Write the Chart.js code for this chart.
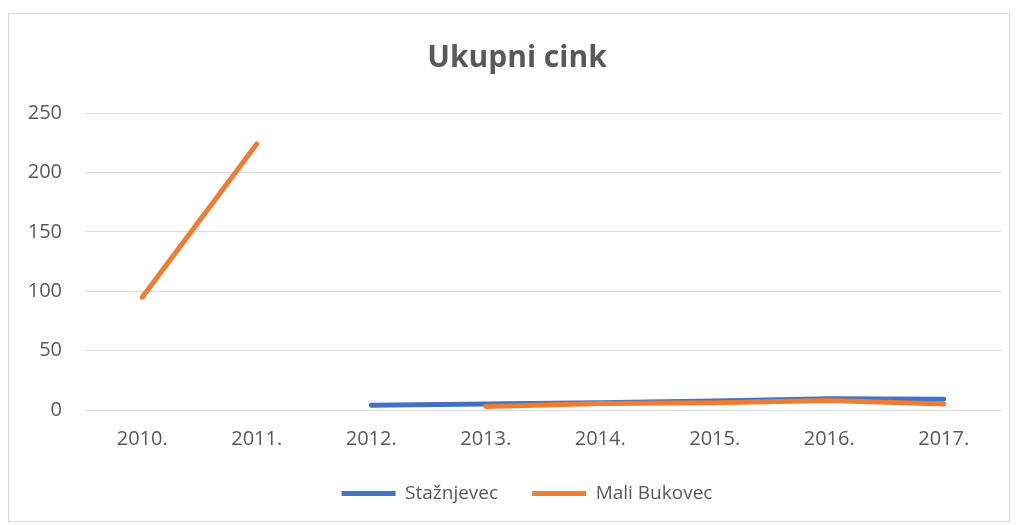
<!DOCTYPE html>
<html>
<head>
<meta charset="utf-8">
<script src="https://cdn.jsdelivr.net/npm/chart.js@4"></script>
<style>
  html, body { margin: 0; padding: 0; background: #fff; }
  .frame {
    position: absolute; left: 8px; top: 13px;
    width: 1000px; height: 507px;
    border: 1px solid #d9d9d9;
  }
</style>
</head>
<body>
<div class="frame"><canvas id="chart" width="1000" height="507"></canvas></div>
<script>
// values
const years = ['2010.', '2011.', '2012.', '2013.', '2014.', '2015.', '2016.', '2017.'];
const staznjevec = [null, null, 4, 5, 6, 7.5, 9.5, 9];
const maliBukovec = [95, 224, null, 3, 5.5, 6, 8, 5];
const yTicks = [0, 50, 100, 150, 200, 250];

const BLUE = '#4472C4';
const ORANGE = '#ED7D31';
const TEXT = '#595959';
const FONT = "'Open Sans', sans-serif";

// nudge legend and title to where the original sits
const boxShift = {
    id: 'boxShift',
    afterLayout(chart) {
        const l = chart.legend;
        l.left += 22; l.right += 22;
        l.top -= 18; l.bottom -= 18;
        const t = chart.titleBlock;
        t.left += 12; t.right += 12;
    }
};

const ctx = document.getElementById('chart').getContext('2d');

new Chart(ctx, {
    type: 'line',
    data: {
        labels: years,
        datasets: [
            {
                label: 'Stažnjevec',
                data: staznjevec,
                borderColor: BLUE,
                backgroundColor: BLUE,
                borderWidth: 5,
                order: 1
            },
            {
                label: 'Mali Bukovec',
                data: maliBukovec,
                borderColor: ORANGE,
                backgroundColor: ORANGE,
                borderWidth: 5,
                order: 0
            }
        ]
    },
    plugins: [boxShift],
    options: {
        responsive: false,
        animation: false,
        spanGaps: false,
        elements: {
            point: { radius: 0, hoverRadius: 0 },
            line: { tension: 0, borderCapStyle: 'round', borderJoinStyle: 'round' }
        },
        layout: { padding: { left: 0, right: 8, top: 0, bottom: -10 } },
        plugins: {
            tooltip: { enabled: false },
            title: {
                display: true,
                text: 'Ukupni cink',
                color: TEXT,
                font: { family: FONT, size: 30, weight: 'bold' },
                padding: { top: 26, bottom: 37 }
            },
            legend: {
                position: 'bottom',
                labels: {
                    color: TEXT,
                    font: { family: FONT, size: 19 },
                    boxWidth: 54,
                    boxHeight: 5,
                    padding: 34,
                    useBorderRadius: true,
                    borderRadius: 2.5,
                    generateLabels: chart => chart.data.datasets.map((ds, i) => ({
                        text: ds.label,
                        fillStyle: ds.borderColor,
                        strokeStyle: ds.borderColor,
                        lineWidth: 0,
                        fontColor: TEXT,
                        hidden: false,
                        datasetIndex: i
                    }))
                }
            }
        },
        scales: {
            x: {
                offset: true,
                grid: { display: false, drawTicks: false, offset: true },
                border: { display: false },
                ticks: {
                    color: TEXT,
                    font: { family: FONT, size: 20 },
                    padding: 17,
                    maxRotation: 0
                }
            },
            y: {
                min: 0,
                max: 250,
                afterBuildTicks: scale => {
                    scale.ticks = yTicks.map(v => ({ value: v }));
                },
                afterFit: scale => { scale.width = 76; },
                grid: { color: '#d9d9d9', lineWidth: 1, drawTicks: false },
                border: { display: false },
                ticks: {
                    color: TEXT,
                    font: { family: FONT, size: 20 },
                    padding: 23
                }
            }
        }
    }
});
</script>
</body>
</html>
